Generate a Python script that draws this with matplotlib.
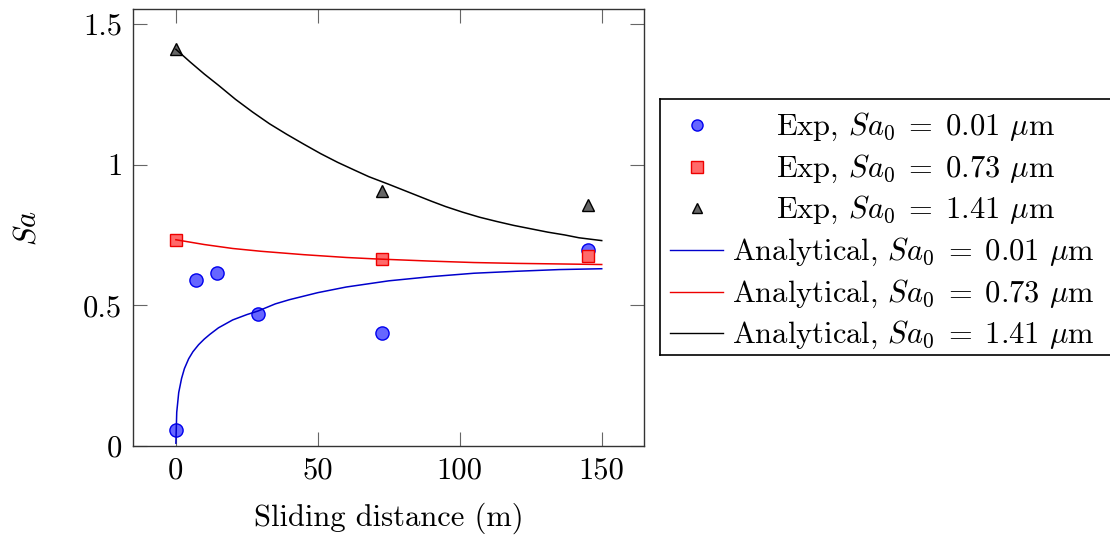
import matplotlib
matplotlib.use('Agg')
from matplotlib import pyplot as plt
from matplotlib.ticker import FuncFormatter

plt.rcParams['font.family'] = 'cmr10'
plt.rcParams['mathtext.fontset'] = 'cm'
plt.rcParams['axes.formatter.use_mathtext'] = True

# experimental points
exp1_x = [0, 7.25, 14.5, 29, 72.5, 145]
exp1_y = [0.057, 0.591, 0.615, 0.470, 0.400, 0.697]
exp2_x = [0, 72.5, 145]
exp2_y = [0.733, 0.663, 0.674]
exp3_x = [0, 72.5, 145]
exp3_y = [1.41, 0.905, 0.855]

# analytical curves
ana1_x = [0, 0.3, 1, 2, 3, 4.5, 6, 8, 10, 12, 15, 20, 25, 29, 35, 40, 50, 60, 75, 90, 105, 120, 135, 150]
ana1_y = [0.01, 0.12, 0.19, 0.24, 0.275, 0.31, 0.335, 0.36, 0.38, 0.397, 0.42, 0.448, 0.467, 0.48, 0.505, 0.52, 0.545, 0.565, 0.587, 0.602, 0.614, 0.621, 0.627, 0.630]
ana2_x = [0, 10, 20, 30, 45, 60, 70, 90, 105, 120, 135, 150]
ana2_y = [0.733, 0.716, 0.702, 0.692, 0.680, 0.670, 0.665, 0.657, 0.652, 0.649, 0.647, 0.645]
ana3_x = [0, 5, 10, 15, 21, 27, 33, 39, 45, 51, 57, 63, 68, 75, 83, 90, 95, 101, 107, 113, 119, 125, 131, 137, 142, 150]
ana3_y = [1.41, 1.365, 1.322, 1.282, 1.232, 1.187, 1.145, 1.108, 1.073, 1.039, 1.008, 0.980, 0.957, 0.930, 0.898, 0.870, 0.851, 0.831, 0.813, 0.798, 0.784, 0.772, 0.760, 0.750, 0.740, 0.730]

labels = [r"Exp, $Sa_0\;=\;0.01$ $\mu$m", r"Exp, $Sa_0\;=\;0.73$ $\mu$m", r"Exp, $Sa_0\;=\;1.41$ $\mu$m",
          r"Analytical, $Sa_0\;=\;0.01$ $\mu$m", r"Analytical, $Sa_0\;=\;0.73$ $\mu$m",
          r"Analytical, $Sa_0\;=\;1.41$ $\mu$m"]

W, H = 1110, 540
fig = plt.figure(figsize=(W / 100, H / 100), dpi=100)
ax = fig.add_axes([133.3 / W, 94 / H, 511 / W, 436.7 / H])

circ = dict(marker='o', ms=9.5, mfc='#6666ff', mec='#0000ee', mew=1.0, ls='none')
sq = dict(marker='s', ms=9, mfc='#ff6a6a', mec='#ee0000', mew=1.0, ls='none')
tri = dict(marker='^', ms=9, mfc='#666666', mec='black', mew=1.0, ls='none')

ax.plot(exp1_x, exp1_y, **circ, zorder=3)
ax.plot(exp2_x, exp2_y, **sq, zorder=3)
ax.plot(exp3_x, exp3_y, **tri, zorder=3)
ax.plot(ana1_x, ana1_y, color='#0000cc', lw=1.1, zorder=4)
ax.plot(ana2_x, ana2_y, color='#ee0000', lw=1.1, zorder=4)
ax.plot(ana3_x, ana3_y, color='black', lw=1.1, zorder=4)

ax.set_xlim(-15, 165)
ax.set_ylim(0, 1.552)
ax.set_xticks([0, 50, 100, 150])
ax.set_yticks([0, 0.5, 1, 1.5])
fmt = FuncFormatter(lambda v, p: f"{v:g}")
ax.xaxis.set_major_formatter(fmt)
ax.yaxis.set_major_formatter(fmt)
ax.tick_params(direction='in', length=10, width=0.8, color='#666666', labelsize=22,
               top=True, right=True, pad=8)
for s in ax.spines.values():
    s.set_linewidth(1.0)
    s.set_color('#333333')

ax.set_xlabel("Sliding distance (m)", fontsize=22)
ax.set_ylabel("$Sa$", fontsize=22)
ax.xaxis.set_label_coords(0.5, -0.13)
ax.yaxis.set_label_coords(-0.18, 0.5)

# legend drawn by hand, in pixel units of the figure
lax = fig.add_axes([660 / W, (H - 355) / H, (1125 - 660) / W, (355 - 99.3) / H])
lax.set_xlim(660, 1125)
lax.set_ylim(355, 99.3)
lax.set_xticks([])
lax.set_yticks([])
for s in lax.spines.values():
    s.set_linewidth(1.2)
    s.set_color('black')

rows = [125, 166.7, 208.3, 250, 291.7, 333.3]
lax.plot(696.7, rows[0], **dict(circ, ms=8))
lax.plot(696.7, rows[1], **dict(sq, ms=8))
lax.plot(696.7, rows[2], **dict(tri, ms=7))
for r, c in zip(rows[3:], ['#0000cc', '#ee0000', 'black']):
    lax.plot([670, 723], [r, r], color=c, lw=1.0)
for i, (r, lab) in enumerate(zip(rows, labels)):
    if i < 3:
        lax.text(916, r + 10, lab, fontsize=22, ha='center', va='baseline')
    else:
        lax.text(732, r + 10, lab, fontsize=22, ha='left', va='baseline')

fig.savefig('out.png', dpi=100)
